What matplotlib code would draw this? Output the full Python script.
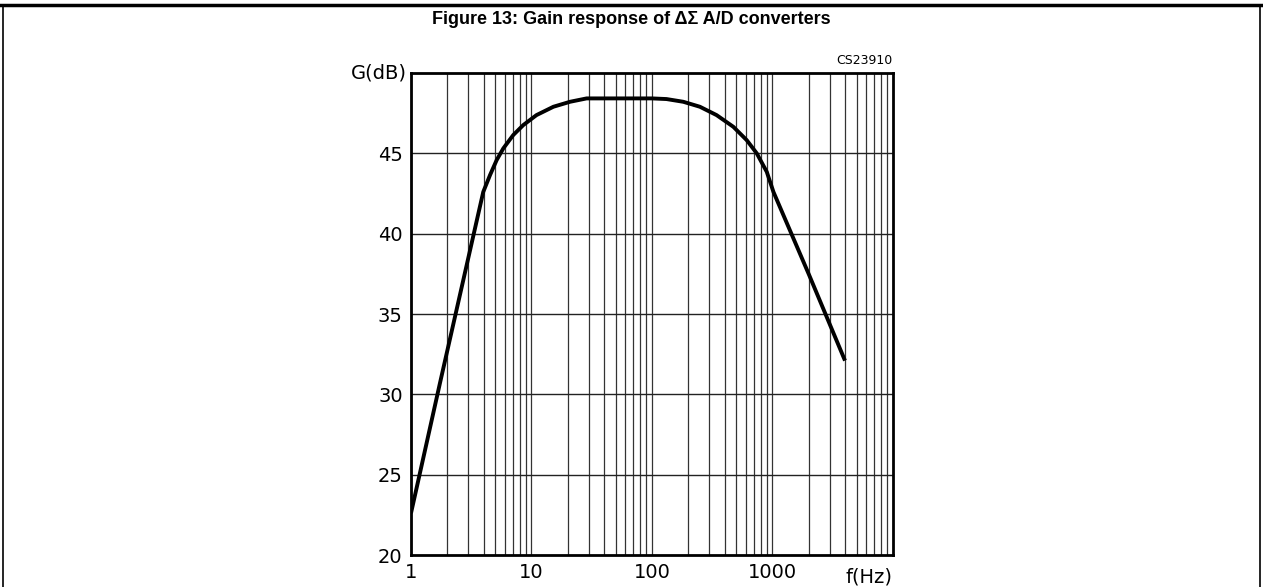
import matplotlib
matplotlib.use("Agg")
import matplotlib.pyplot as plt
from matplotlib.lines import Line2D

# gain curve (frequency in Hz, gain in dB)
freq = [1, 1.74, 3.98, 4.53, 5.14, 5.84, 7.06, 8.55, 11.0, 15.2, 20.9, 28.7,
        50, 79.5, 100, 132, 182, 250, 344, 474, 612, 741, 897, 1019, 2010, 4000]
gain = [22.6, 30.7, 42.6, 43.65, 44.58, 45.31, 46.14, 46.76, 47.38, 47.9, 48.21, 48.42,
        48.42, 48.42, 48.42, 48.38, 48.21, 47.9, 47.38, 46.65, 45.82, 45.0, 43.85, 42.6, 37.45, 32.1]

y_ticks = [20, 25, 30, 35, 40, 45]
x_ticks = [1, 10, 100, 1000]
x_labels = ["1", "10", "100", "1000"]

fig = plt.figure(figsize=(12.63, 5.87), dpi=100)
ax = fig.add_axes([0.3254, 0.0545, 0.3816, 0.8211])

ax.set_xscale("log")
ax.set_xlim(1, 10000)
ax.set_ylim(20, 50)

# vertical grid on every log sub-division, horizontal every 5 dB
for dec in [1, 10, 100, 1000]:
    for m in range(1, 10):
        ax.axvline(dec * m, color="#333333", lw=0.9, zorder=1)
for yv in y_ticks[1:]:
    ax.axhline(yv, color="#222222", lw=1.0, zorder=1)

ax.plot(freq, gain, color="black", lw=2.8, solid_capstyle="butt",
        solid_joinstyle="round", zorder=3)

ax.set_xticks(x_ticks)
ax.set_xticklabels(x_labels)
ax.xaxis.set_minor_locator(matplotlib.ticker.NullLocator())
ax.set_yticks(y_ticks)
ax.tick_params(length=0, labelsize=14, pad=6)
for s in ax.spines.values():
    s.set_linewidth(2.0)

ax.text(10000, 19.2, "f(Hz)", ha="right", va="top", fontsize=14)
ax.text(0.93, 50, "G(dB)", ha="right", va="center", fontsize=14)
ax.text(10000, 50.4, "CS23910", ha="right", va="bottom", fontsize=9)

fig.text(0.5, 0.966, "Figure 13: Gain response of ΔΣ A/D converters",
         ha="center", va="center", fontsize=13, fontweight="bold",
         family=["Liberation Sans", "DejaVu Sans"])

# page frame
fig.add_artist(Line2D([0, 1], [0.992, 0.992], color="black", lw=2.5, transform=fig.transFigure))
fig.add_artist(Line2D([0.002, 0.002], [0, 0.992], color="black", lw=1.2, transform=fig.transFigure))
fig.add_artist(Line2D([0.998, 0.998], [0, 0.992], color="black", lw=1.2, transform=fig.transFigure))

fig.savefig("out.png", dpi=100)
